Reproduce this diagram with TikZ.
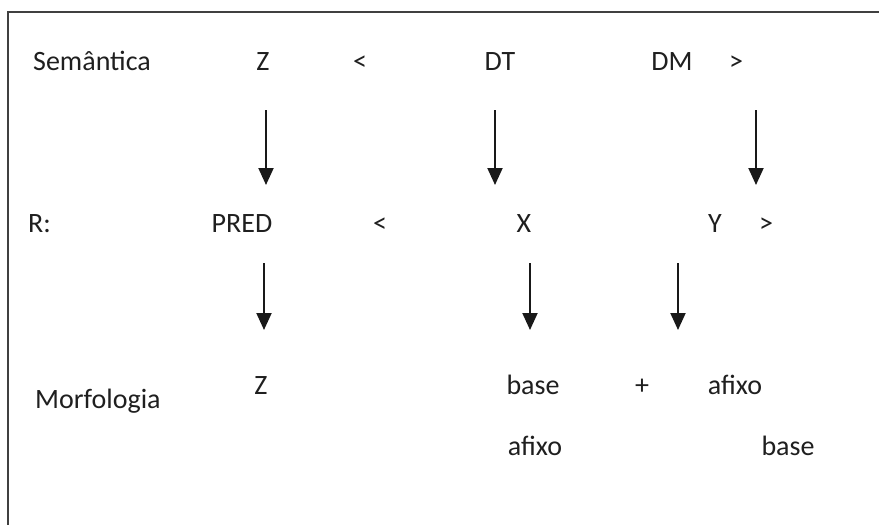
\documentclass[tikz,border=0pt]{standalone}
\usepackage{fontspec}
\setmainfont{Carlito}
\usetikzlibrary{arrows.meta}

\begin{document}
\begin{tikzpicture}[x=1pt,y=-1pt,>={Triangle[length=17pt,width=15pt]},
    lbl/.style={font=\fontsize{28}{34}\selectfont,text=black!88,anchor=base,inner sep=0pt},
    lvl/.style={lbl,anchor=base west},
    map/.style={->,line width=2pt,black!90}]
    \useasboundingbox (0,0) rectangle (879,525);
    \draw[line width=2pt,black!75] (8,525) -- (8,12) -- (879,12);
    % levels
    \node[lvl] (sem) at (33,70) {Semântica};
    \node[lvl] (r) at (28,232) {R:};
    \node[lvl] (morf) at (35,408) {Morfologia};
    % semantics
    \node[lbl] (z1) at (263,70) {Z};
    \node[lbl] (lt1) at (360,70) {<};
    \node[lbl] (dt) at (500,70) {DT};
    \node[lbl] (dm) at (672,70) {DM};
    \node[lbl] (gt1) at (736,70) {>};
    % R
    \node[lbl] (pred) at (242,232) {PRED};
    \node[lbl] (lt2) at (380,232) {<};
    \node[lbl] (x) at (524,232) {X};
    \node[lbl] (y) at (715,232) {Y};
    \node[lbl] (gt2) at (766,232) {>};
    % morphology
    \node[lbl] (z2) at (261,394) {Z};
    \node[lbl] (base1) at (533,394) {base};
    \node[lbl] (plus) at (642,394) {+};
    \node[lbl] (afixo1) at (735,394) {afixo};
    \node[lbl] (afixo2) at (535,455) {afixo};
    \node[lbl] (base2) at (788,455) {base};
    % arrows
    \foreach \x/\n in {266/a,495/b,756/c}{
      \coordinate (s\n) at (\x,110);
      \coordinate (e\n) at (\x,185);
      \draw[map] (s\n) -- (e\n);
    }
    \foreach \x/\n in {264/d,530/e,678/f}{
      \coordinate (s\n) at (\x,263);
      \coordinate (e\n) at (\x,330);
      \draw[map] (s\n) -- (e\n);
    }
\end{tikzpicture}
\end{document}
